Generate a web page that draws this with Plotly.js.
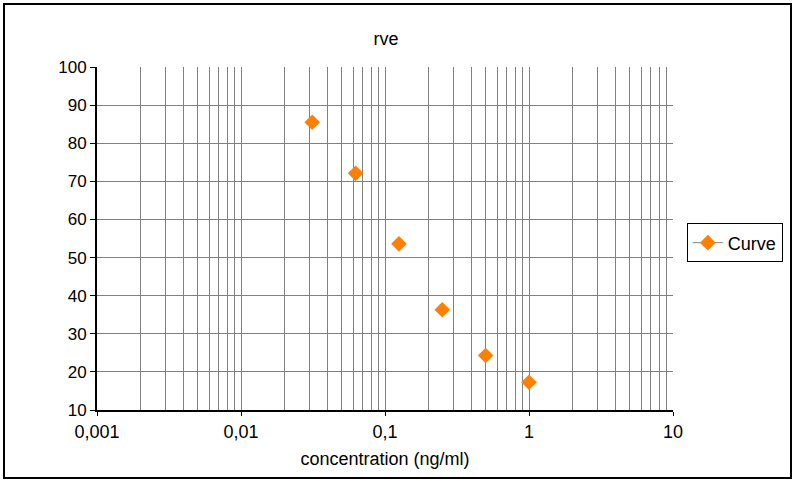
<!DOCTYPE html>
<html>
<head>
<meta charset="utf-8">
<script src="https://cdn.plot.ly/plotly-3.0.1.min.js"></script>
<style>
  html, body { margin: 0; padding: 0; background: #fff; }
  #chart { width: 796px; height: 480px; }
  #frame { position: absolute; left: 3px; top: 3px; width: 785px; height: 472px; border: 2px solid #000; pointer-events: none; }
</style>
</head>
<body>
<div id="chart"></div>
<div id="frame"></div>
<script>
const concentration = [0.03125, 0.0625, 0.125, 0.25, 0.5, 1];
const response = [85.5, 72.1, 53.6, 36.3, 24.3, 17.3];
const xTickVals = [0.001, 0.01, 0.1, 1, 10];
const xTickText = ['0,001', '0,01', '0,1', '1', '10'];
const seriesName = 'Curve';
const chartTitle = 'rve';
const xTitle = 'concentration (ng/ml)';

const orange = '#FF8000';
const fam = 'Liberation Sans, Arial, sans-serif';

const traces = [
  {
    x: concentration, y: response, type: 'scatter', mode: 'markers',
    marker: { symbol: 'diamond', size: 12, color: orange },
    showlegend: false, hoverinfo: 'x+y'
  },
  {
    x: [null], y: [null], type: 'scatter', mode: 'lines+markers', name: seriesName,
    marker: { symbol: 'diamond', size: 12, color: orange },
    line: { color: '#808080', width: 1 }, showlegend: true
  }
];

const layout = {
  width: 796, height: 480,
  margin: { l: 97, r: 123, t: 67, b: 70 },
  paper_bgcolor: '#fff', plot_bgcolor: '#fff',
  font: { family: fam, size: 16, color: '#000' },
  title: { text: chartTitle, font: { family: fam, size: 18, color: '#000' }, x: 0.485, xanchor: 'center', y: 0.92, yanchor: 'middle' },
  xaxis: {
    type: 'log', range: [-3, 1],
    tickvals: xTickVals, ticktext: xTickText,
    showgrid: true, gridcolor: '#808080', gridwidth: 1,
    ticks: 'outside', ticklen: 4, tickcolor: '#000', tickwidth: 1,
    showline: true, linecolor: '#000', linewidth: 2,
    zeroline: false,
    minor: { dtick: 'D1', showgrid: true, gridcolor: '#808080', gridwidth: 1, ticks: '' },
    tickfont: { family: fam, size: 18, color: '#000' },
    title: { text: xTitle, font: { family: fam, size: 18, color: '#000' }, standoff: 12 }
  },
  yaxis: {
    range: [10, 100], dtick: 10, tick0: 0,
    showgrid: true, gridcolor: '#808080', gridwidth: 1,
    ticks: 'outside', ticklen: 5, tickcolor: '#000', tickwidth: 1,
    showline: true, linecolor: '#000', linewidth: 2,
    zeroline: false,
    tickfont: { family: fam, size: 17, color: '#000' }
  },
  legend: {
    x: 1.024, xanchor: 'left', y: 0.487, yanchor: 'middle',
    bordercolor: '#000', borderwidth: 1, bgcolor: '#fff',
    font: { family: fam, size: 18, color: '#000' },
    itemwidth: 30
  },
  showlegend: true
};

Plotly.newPlot('chart', traces, layout, { displayModeBar: false, staticPlot: true });
</script>
</body>
</html>
